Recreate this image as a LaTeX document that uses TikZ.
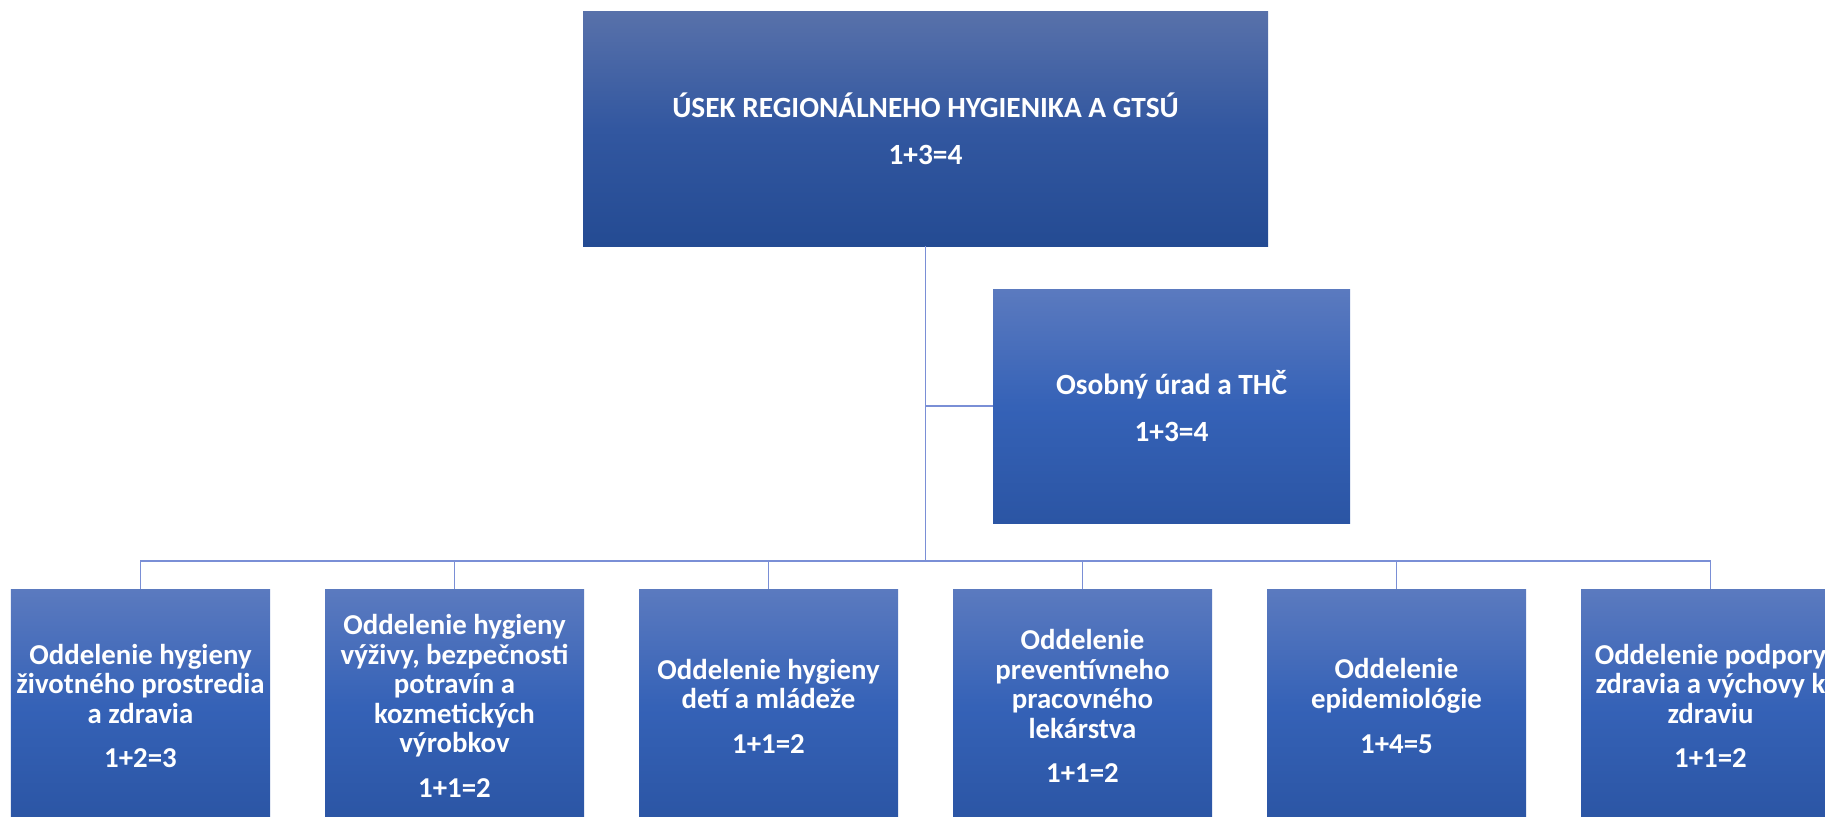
\documentclass[tikz,border=0pt]{standalone}
\usepackage{fontspec}
\setmainfont{Carlito}
\usetikzlibrary{shadings}

\definecolor{headtop}{RGB}{88,113,170}
\definecolor{headmid}{RGB}{50,87,160}
\definecolor{headbot}{RGB}{36,75,147}
\definecolor{unittop}{RGB}{91,122,191}
\definecolor{unitmid}{RGB}{53,98,183}
\definecolor{unitbot}{RGB}{43,85,164}
\definecolor{linkblue}{RGB}{122,143,214}

\tikzset{unitbox/.style = {rectangle, inner sep=0pt, align=center, text=white,
                           minimum width=#1, minimum height=4.68cm,
                           top color=unittop, bottom color=unitbot, middle color=unitmid,
                           font=\bfseries\fontsize{16.4}{16.8}\selectfont},
         unitbox/.default=5.18cm,
         bigtext/.style = {font=\bfseries\fontsize{16.7}{17.4}\selectfont},
         headbox/.style = {unitbox=13.7cm, bigtext,
                           top color=headtop, bottom color=headbot, middle color=headmid},
         linkline/.style = {draw=linkblue, line width=0.8pt},
         orgchart/.style = {level distance=11.54cm,
                            sibling distance=6.28cm,
                            edge from parent/.style={linkline},
                            edge from parent path={(\tikzparentnode.south) -- ++(0,-6.29)
                                                   -| (\tikzchildnode.north)}
                           }
        }

\begin{document}
\begin{tikzpicture}[orgchart]
  \useasboundingbox (0,0) rectangle (36.5,-16.34);
  \clip (0,0) rectangle (36.5,-16.34);

  \node[headbox] (top) at (18.51,-2.58) {ÚSEK REGIONÁLNEHO HYGIENIKA A GTSÚ\\[0.32cm] 1+3=4}
   child {node[unitbox] (b1) {Oddelenie hygieny\\životného prostredia\\a zdravia\\[0.3cm] 1+2=3}}
   child {node[unitbox] (b2) {Oddelenie hygieny\\výživy, bezpečnosti\\potravín a\\kozmetických\\výrobkov\\[0.3cm] 1+1=2}}
   child {node[unitbox] (b3) {Oddelenie hygieny\\detí a mládeže\\[0.3cm] 1+1=2}}
   child {node[unitbox] (b4) {Oddelenie\\preventívneho\\pracovného\\lekárstva\\[0.3cm] 1+1=2}}
   child {node[unitbox] (b5) {Oddelenie\\epidemiológie\\[0.3cm] 1+4=5}}
   child {node[unitbox] (b6) {Oddelenie podpory\\zdravia a výchovy k\\zdraviu\\[0.3cm] 1+1=2}};

  % staff unit beside the trunk
  \node[unitbox=7.14cm, bigtext] (staff) at (23.43,-8.12) {Osobný úrad a THČ\\[0.32cm] 1+3=4};
  \draw[linkline] (staff.west) -- (staff.west -| top.south);
\end{tikzpicture}
\end{document}
